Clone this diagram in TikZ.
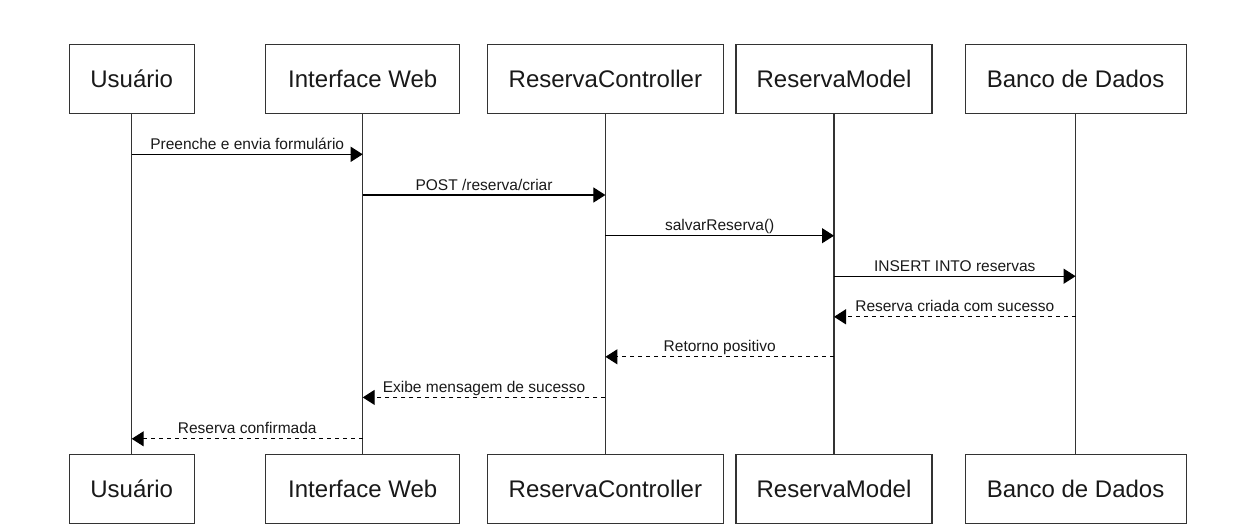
\documentclass[tikz,border=0pt]{standalone}
\usepackage{fontspec}
\setmainfont{Liberation Sans}
\usetikzlibrary{arrows.meta}
\begin{document}
\begin{tikzpicture}[x=1pt,y=-1pt,
  actor/.style={draw=black!80, line width=1.2pt, fill=white, minimum height=69pt, inner sep=0pt, font=\fontsize{24}{28}\selectfont, text=black!90},
  life/.style={draw=black!80, line width=1.2pt},
  call/.style={draw=black, line width=1.1pt, -{Triangle[length=12pt,width=15pt]}},
  reply/.style={call, dash pattern=on 4pt off 4pt},
  lbl/.style={anchor=base, inner sep=0pt, font=\fontsize{15.5}{18}\selectfont, text=black!90}]
\useasboundingbox (0,0) rectangle (1252,528);
% top actors
\node[actor, minimum width=125pt] (uT) at (131.7,79) {Usuário};
\node[actor, minimum width=194pt] (iT) at (362.7,79) {Interface Web};
\node[actor, minimum width=236pt] (cT) at (605.4,79) {ReservaController};
\node[actor, minimum width=196pt] (mT) at (834,79) {ReservaModel};
\node[actor, minimum width=221pt] (bT) at (1075.6,79) {Banco de Dados};
% bottom actors
\node[actor, minimum width=125pt] (uB) at (131.7,489) {Usuário};
\node[actor, minimum width=194pt] (iB) at (362.7,489) {Interface Web};
\node[actor, minimum width=236pt] (cB) at (605.4,489) {ReservaController};
\node[actor, minimum width=196pt] (mB) at (834,489) {ReservaModel};
\node[actor, minimum width=221pt] (bB) at (1075.6,489) {Banco de Dados};
% lifelines
\draw[life] (uT.south) -- (uB.north);
\draw[life] (iT.south) -- (iB.north);
\draw[life] (cT.south) -- (cB.north);
\draw[life] (mT.south) -- (mB.north);
\draw[life] (bT.south) -- (bB.north);
% message rows
\coordinate (r1) at (0,154.3);
\coordinate (r2) at (0,195);
\coordinate (r3) at (0,235.7);
\coordinate (r4) at (0,276.2);
\coordinate (r5) at (0,316.8);
\coordinate (r6) at (0,356.8);
\coordinate (r7) at (0,397.4);
\coordinate (r8) at (0,438.8);
% messages
\draw[call] (uT |- r1) -- node[lbl, yshift=5pt] {Preenche e envia formulário} (iT |- r1);
\draw[call] (iT |- r2) -- node[lbl, yshift=5pt] {POST /reserva/criar} (cT |- r2);
\draw[call] (cT |- r3) -- node[lbl, yshift=5pt] {salvarReserva()} (mT |- r3);
\draw[call] (mT |- r4) -- node[lbl, yshift=5pt] {INSERT INTO reservas} (bT |- r4);
\draw[reply] (bT |- r5) -- node[lbl, yshift=5pt] {Reserva criada com sucesso} (mT |- r5);
\draw[reply] (mT |- r6) -- node[lbl, yshift=5pt] {Retorno positivo} (cT |- r6);
\draw[reply] (cT |- r7) -- node[lbl, yshift=5pt] {Exibe mensagem de sucesso} (iT |- r7);
\draw[reply] (iT |- r8) -- node[lbl, yshift=5pt] {Reserva confirmada} (uT |- r8);
\end{tikzpicture}
\end{document}
